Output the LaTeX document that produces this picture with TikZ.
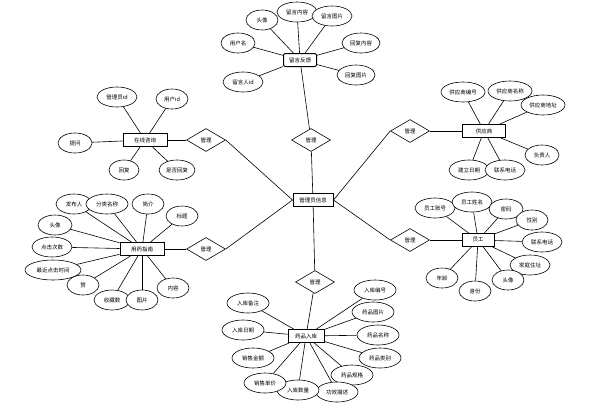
\documentclass[tikz,border=0pt]{standalone}
\usepackage{fontspec}
\newfontfamily\cjk{Noto Sans CJK SC}
\usetikzlibrary{shapes.geometric,backgrounds}
\begin{document}
\begin{tikzpicture}[x=1pt,y=-1pt,
  every node/.style={font=\cjk\fontsize{5.5}{6}\selectfont, inner sep=0pt},
  attr/.style={draw, ellipse, fill=white, line width=0.6pt, minimum height=20pt, minimum width=#1},
  attr/.default=34pt,
  ent/.style={draw, line width=1pt, minimum width=#1, minimum height=13pt, fill=white},
  ent/.default=44pt,
  rel/.style={draw, diamond, fill=white, aspect=1.7, line width=0.6pt, minimum width=39pt, minimum height=23pt},
  lnk/.style={line width=0.6pt}]
\useasboundingbox (0,0) rectangle (601,405);

% entities
\node[ent=40pt] (admin) at (313,200) {管理员信息};
\node[ent=33pt, rounded corners=2pt] (msg) at (300,60) {留言反馈};
\node[ent=44pt] (zx) at (145,140) {在线咨询};
\node[ent=44pt] (zn) at (142,249) {用药指南};
\node[ent=43pt] (gys) at (484,131) {供应商};
\node[ent=32pt] (yg) at (478,240) {员工};
\node[ent=36pt] (rk) at (306,336) {药品入库};

% relations
\node[rel] (r1) at (311,140) {管理};
\node[rel] (r2) at (206,140) {管理};
\node[rel] (r3) at (206,249) {管理};
\node[rel] (r4) at (410,131) {管理};
\node[rel] (r5) at (410,240) {管理};
\node[rel] (r6) at (315,282) {管理};

% 留言反馈 attributes
\node[attr=32pt] (m1) at (262,20) {头像};
\node[attr=40pt] (m2) at (297,12) {留言内容};
\node[attr=40pt] (m3) at (332,16) {留言图片};
\node[attr=34pt] (m4) at (238,43) {用户名};
\node[attr=38pt] (m5) at (361,43) {回复内容};
\node[attr=38pt] (m6) at (356,75) {回复图片};
\node[attr=40pt] (m7) at (243,82) {留言人id};

% 在线咨询 attributes
\node[attr=40pt] (z1) at (117,97) {管理员id};
\node[attr=32pt] (z2) at (172,99) {用户id};
\node[attr=34pt] (z3) at (75,143) {提问};
\node[attr=30pt] (z4) at (124,170) {回复};
\node[attr=36pt] (z5) at (177,170) {是否回复};

% 用药指南 attributes
\node[attr=36pt] (n1) at (74,204) {发布人};
\node[attr=42pt] (n2) at (107,204) {分类名称};
\node[attr=32pt] (n3) at (148,204) {简介};
\node[attr=32pt] (n4) at (182,216) {标题};
\node[attr=34pt] (n5) at (55,225) {头像};
\node[attr=40pt] (n6) at (52,247) {点击次数};
\node[attr=56pt] (n7) at (53,270) {最近点击时间};
\node[attr=32pt] (n8) at (83,285) {赞};
\node[attr=36pt] (n9) at (112,300) {收藏数};
\node[attr=32pt] (n10) at (142,300) {图片};
\node[attr=32pt] (n11) at (173,288) {内容};

% 供应商 attributes
\node[attr=44pt] (g1) at (463,92) {供应商编号};
\node[attr=44pt] (g2) at (510,91) {供应商名称};
\node[attr=44pt] (g3) at (543,105) {供应商地址};
\node[attr=34pt] (g4) at (542,155) {负责人};
\node[attr=40pt] (g5) at (469,170) {建立日期};
\node[attr=40pt] (g6) at (505,170) {联系电话};

% 员工 attributes
\node[attr=40pt] (y1) at (435,208) {员工账号};
\node[attr=40pt] (y2) at (472,202) {员工姓名};
\node[attr=34pt] (y3) at (506,209) {密码};
\node[attr=32pt] (y4) at (532,220) {性别};
\node[attr=40pt] (y5) at (542,242) {联系电话};
\node[attr=40pt] (y6) at (530,265) {家庭住址};
\node[attr=32pt] (y7) at (508,280) {头像};
\node[attr=32pt] (y8) at (475,291) {身份};
\node[attr=32pt] (y9) at (442,278) {年龄};

% 药品入库 attributes
\node[attr=42pt] (k1) at (375,290) {入库编号};
\node[attr=42pt] (k2) at (373,312) {药品图片};
\node[attr=42pt] (k3) at (378,335) {药品名称};
\node[attr=42pt] (k4) at (380,358) {药品类别};
\node[attr=42pt] (k5) at (352,375) {药品规格};
\node[attr=42pt] (k6) at (337,392) {功效描述};
\node[attr=42pt] (k7) at (298,390) {入库数量};
\node[attr=42pt] (k8) at (265,383) {销售单价};
\node[attr=42pt] (k9) at (253,358) {销售金额};
\node[attr=42pt] (k10) at (243,330) {入库日期};
\node[attr=42pt] (k11) at (248,303) {入库备注};

\begin{scope}[on background layer]
\fill[white] (0,0) rectangle (601,405);
\draw[lnk] (msg) -- (r1) -- (admin);
\draw[lnk] (zx) -- (r2);
\draw[lnk] (r2.east) -- (admin.west);
\draw[lnk] (zn) -- (r3);
\draw[lnk] (r3.east) -- (admin.west);
\draw[lnk] (gys) -- (r4);
\draw[lnk] (r4.west) -- (admin.east);
\draw[lnk] (yg) -- (r5);
\draw[lnk] (r5.west) -- (admin.east);
\draw[lnk] (admin) -- (r6) -- (rk);
\foreach \a in {m1,m2,m3,m4,m5,m6,m7} \draw[lnk] (\a) -- (msg);
\foreach \a in {z1,z2,z3,z4,z5} \draw[lnk] (\a) -- (zx);
\foreach \a in {n1,n2,n3,n4,n5,n6,n7,n8,n9,n10,n11} \draw[lnk] (\a) -- (zn);
\foreach \a in {g1,g2,g3,g4,g5,g6} \draw[lnk] (\a) -- (gys);
\foreach \a in {y1,y2,y3,y4,y5,y6,y7,y8,y9} \draw[lnk] (\a) -- (yg);
\foreach \a in {k1,k2,k3,k4,k5,k6,k7,k8,k9,k10,k11} \draw[lnk] (\a) -- (rk);
\end{scope}
\end{tikzpicture}
\end{document}
